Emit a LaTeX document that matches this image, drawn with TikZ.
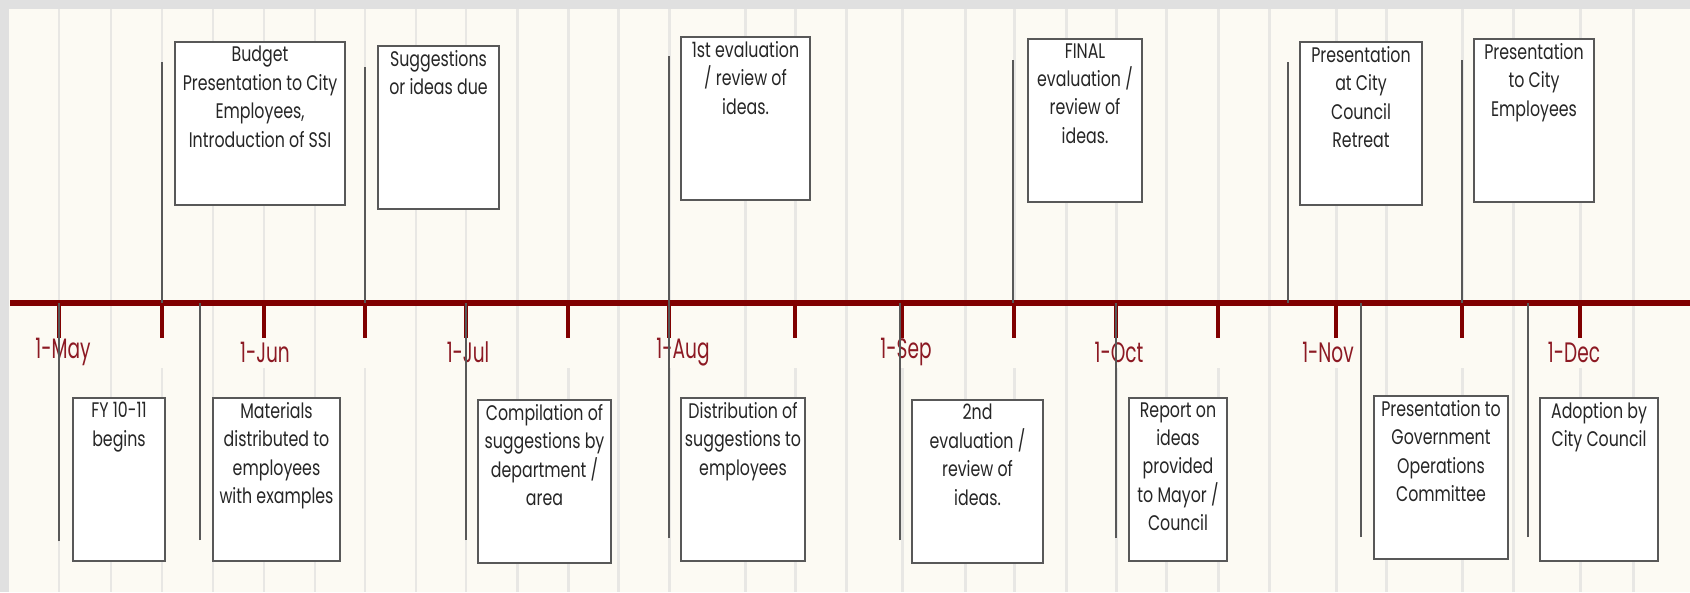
\documentclass[tikz,border=0pt]{standalone}
\usepackage{fontspec}
\setmainfont{Poppins}[FakeStretch=0.75]
\newfontfamily\monthfont{Poppins}[FakeStretch=0.66]
\usepackage{tikz}
\definecolor{axisred}{RGB}{128,0,0}
\definecolor{labelred}{RGB}{140,25,35}
\definecolor{cream}{RGB}{252,250,243}
\definecolor{gridgrey}{RGB}{232,231,228}
\definecolor{edgegrey}{RGB}{88,88,88}

\begin{document}
\begin{tikzpicture}[x=0.02cm,y=-0.02cm,
  evbox/.style={draw=edgegrey,line width=1.1pt,fill=white,anchor=north,minimum height=3.26cm,inner sep=0pt},
  evtext/.style={anchor=north,align=center,font=\fontsize{12}{16.2}\selectfont,text=black!85,inner sep=0pt,yshift=-0.1cm},
  stemline/.style={draw=edgegrey,line width=1.1pt},
  gridline/.style={draw=gridgrey,line width=1.7pt},
  month/.style={text=labelred,font=\monthfont\fontsize{16}{16}\selectfont}]
  \useasboundingbox (0,0) rectangle (1690,592);
  \fill[black!12] (0,0) rectangle (1690,592);
  \fill[cream] (9,9) rectangle (1690,592);

  \foreach \x in {59,162,264,365,466,568,669,795,902,1014,1116,1218,1336,1462,1580}{
    \draw[gridline] (\x,9) -- (\x,303);
    \draw[gridline] (\x,368) -- (\x,592);}
  \foreach \x in {111,213,315,416,517,618,745,846,965,1066,1166,1269,1386,1513,1633}
    \draw[gridline] (\x,9) -- (\x,592);

  \coordinate (axis) at (10,303);
  \coordinate (axis-end) at (1690,303);
  \draw[axisred,line width=3.4pt] (axis) -- (axis-end);
  \foreach \x in {59,162,264,365,466,568,669,795,902,1014,1116,1218,1336,1462,1580}
    \draw[axisred,line width=2.8pt] (\x,303) -- (\x,338);

  \node[month] (may) at (63,352) {1-May};
  \node[month] (jun) at (265,352) {1-Jun};
  \node[month] (jul) at (468,352) {1-Jul};
  \node[month] (aug) at (683,352) {1-Aug};
  \node[month] (sep) at (906,352) {1-Sep};
  \node[month] (oct) at (1119,352) {1-Oct};
  \node[month] (nov) at (1328,352) {1-Nov};
  \node[month] (dec) at (1574,352) {1-Dec};

  \coordinate (budget-s) at (162,62);
  \coordinate (suggest-s) at (365,67);
  \coordinate (eval1-s) at (669,56);
  \coordinate (final-s) at (1013,60);
  \coordinate (retreat-s) at (1288,62);
  \coordinate (cityemp-s) at (1462,60);
  \coordinate (fy-s) at (59,541);
  \coordinate (material-s) at (200,540);
  \coordinate (compil-s) at (466,540);
  \coordinate (distrib-s) at (669,538);
  \coordinate (eval2-s) at (900,540);
  \coordinate (report-s) at (1116,538);
  \coordinate (govop-s) at (1361,537);
  \coordinate (adopt-s) at (1528,537);
  \foreach \s in {budget,suggest,eval1,final,retreat,cityemp,fy,material,compil,distrib,eval2,report,govop,adopt}
    \draw[stemline] (\s-s) -- (\s-s |- axis);

  \node[evbox,minimum width=3.40cm] (budget) at (260,41) {};
  \node[evtext] (budget-t) at (budget.north) {Budget\\Presentation to City\\Employees,\\Introduction of SSI};
  \node[evbox,minimum width=2.42cm] (suggest) at (438.5,45) {};
  \node[evtext] (suggest-t) at (suggest.north) {Suggestions\\or ideas due};
  \node[evbox,minimum width=2.58cm] (eval1) at (745.5,36) {};
  \node[evtext] (eval1-t) at (eval1.north) {1st evaluation\\/ review of\\ideas.};
  \node[evbox,minimum width=2.28cm] (final) at (1085,38) {};
  \node[evtext] (final-t) at (final.north) {FINAL\\evaluation /\\review of\\ideas.};
  \node[evbox,minimum width=2.44cm] (retreat) at (1361,41) {};
  \node[evtext] (retreat-t) at (retreat.north) {Presentation\\at City\\Council\\Retreat};
  \node[evbox,minimum width=2.40cm] (cityemp) at (1534,38) {};
  \node[evtext] (cityemp-t) at (cityemp.north) {Presentation\\to City\\Employees};

  \node[evbox,minimum width=1.84cm] (fy) at (119,397) {};
  \node[evtext] (fy-t) at (fy.north) {FY 10-11\\begins};
  \node[evbox,minimum width=2.54cm] (material) at (276.5,397) {};
  \node[evtext] (material-t) at (material.north) {Materials\\distributed to\\employees\\with examples};
  \node[evbox,minimum width=2.66cm] (compil) at (544.5,399) {};
  \node[evtext] (compil-t) at (compil.north) {Compilation of\\suggestions by\\department /\\area};
  \node[evbox,minimum width=2.48cm] (distrib) at (743,397) {};
  \node[evtext] (distrib-t) at (distrib.north) {Distribution of\\suggestions to\\employees};
  \node[evbox,minimum width=2.62cm] (eval2) at (977.5,399) {};
  \node[evtext] (eval2-t) at (eval2.north) {2nd\\evaluation /\\review of\\ideas.};
  \node[evbox,minimum width=1.96cm] (report) at (1178,397) {};
  \node[evtext] (report-t) at (report.north) {Report on\\ideas\\provided\\to Mayor /\\Council};
  \node[evbox,minimum width=2.68cm] (govop) at (1441,395) {};
  \node[evtext] (govop-t) at (govop.north) {Presentation to\\Government\\Operations\\Committee};
  \node[evbox,minimum width=2.36cm] (adopt) at (1599,397) {};
  \node[evtext] (adopt-t) at (adopt.north) {Adoption by\\City Council};
\end{tikzpicture}
\end{document}
